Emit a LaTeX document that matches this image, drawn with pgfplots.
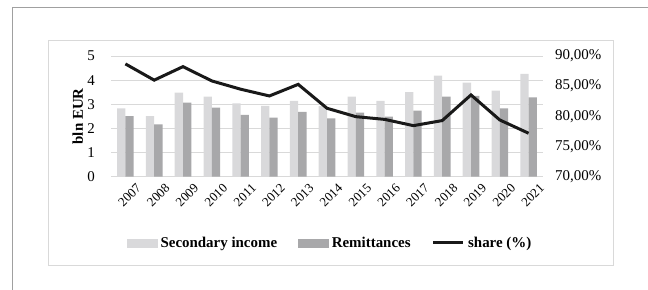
\documentclass[border=0pt]{standalone}
\usepackage{pgfplots}
\pgfplotsset{compat=1.18}
\usepackage{fontspec}
\setmainfont{Liberation Serif}
\definecolor{si}{RGB}{217,217,219}
\definecolor{rem}{RGB}{168,168,170}
\definecolor{gridc}{RGB}{217,217,217}
\definecolor{framec}{RGB}{160,160,160}
\begin{document}
\begin{tikzpicture}
\useasboundingbox (0bp,0bp) rectangle (648bp,-290bp);
\draw[framec, line width=0.8bp] (12bp,-290bp) -- (12bp,-7bp) -- (648bp,-7bp);
\draw[gridc, line width=0.8bp] (48bp,-40bp) rectangle (613bp,-265bp);
\begin{axis}[
  at={(111bp,-176.7bp)}, anchor=south west,
  scale only axis, width=432bp, height=120.7bp,
  xmin=-0.5, xmax=14.5, ymin=0, ymax=5,
  ybar=0pt, bar width=8.3bp,
  axis x line*=bottom, axis y line*=left,
  axis line style={draw=none},
  major tick length=0pt,
  ytick={0,1,2,3,4,5},
  ymajorgrids, grid style={gridc, line width=0.8bp},
  xtick={0,...,14},
  xticklabels={2007,2008,2009,2010,2011,2012,2013,2014,2015,2016,2017,2018,2019,2020,2021},
  xticklabel style={rotate=45, anchor=east, inner sep=0pt, xshift=3bp, yshift=-16bp, font=\fontsize{13}{15}\selectfont},
  yticklabel style={anchor=east, inner sep=0pt, xshift=-16bp, font=\fontsize{15}{17}\selectfont},
  /pgf/number format/assume math mode=true,
  ylabel={\textbf{bln EUR}},
  ylabel style={at={(axis description cs:-0.077,0.5)}, anchor=center, font=\fontsize{15}{17}\selectfont},
]
\addplot[fill=si, draw=none] coordinates {
(0,2.83) (1,2.51) (2,3.48) (3,3.32) (4,3.04) (5,2.93) (6,3.14) (7,2.92)
(8,3.32) (9,3.14) (10,3.50) (11,4.19) (12,3.90) (13,3.57) (14,4.26)};
\addplot[fill=rem, draw=none] coordinates {
(0,2.51) (1,2.17) (2,3.07) (3,2.86) (4,2.56) (5,2.45) (6,2.69) (7,2.42)
(8,2.65) (9,2.49) (10,2.74) (11,3.32) (12,3.35) (13,2.83) (14,3.29)};
\end{axis}
\begin{axis}[
  at={(111bp,-176.7bp)}, anchor=south west,
  scale only axis, width=432bp, height=120.7bp,
  xmin=-0.5, xmax=14.5, ymin=70, ymax=90,
  axis x line=none, axis y line*=right,
  axis line style={draw=none},
  major tick length=0pt,
  ytick={70,75,80,85,90},
  yticklabels={{70,00\%},{75,00\%},{80,00\%},{85,00\%},{90,00\%}},
  yticklabel style={anchor=west, inner sep=0pt, xshift=12bp, font=\fontsize{15}{17}\selectfont},
  legend columns=3,
  legend style={at={(0.505,-0.549)}, anchor=center, draw=none, fill=none,
    font=\bfseries\fontsize{15}{17}\selectfont,
    nodes={inner sep=0pt},
    /tikz/every odd column/.append style={column sep=3.5bp},
    /tikz/every even column/.append style={column sep=21bp}},
]
\addlegendimage{legend image code/.code={\fill[si] (0bp,-3.8bp) rectangle (29.7bp,3.8bp);}}
\addlegendentry{Secondary income}
\addlegendimage{legend image code/.code={\fill[rem] (0bp,-3.8bp) rectangle (29.7bp,3.8bp);}}
\addlegendentry{Remittances}
\addplot[color=black!90, line width=3bp, no marks,
  legend image code/.code={\draw[black!90, line width=3bp] (0bp,0bp) -- (30bp,0bp);}] coordinates {
(0,88.69) (1,86.0) (2,88.24) (3,85.87) (4,84.5) (5,83.38) (6,85.3) (7,81.34)
(8,79.95) (9,79.5) (10,78.46) (11,79.3) (12,83.55) (13,79.4) (14,77.2)};
\addlegendentry{share (\%)}
\end{axis}
\end{tikzpicture}
\end{document}
